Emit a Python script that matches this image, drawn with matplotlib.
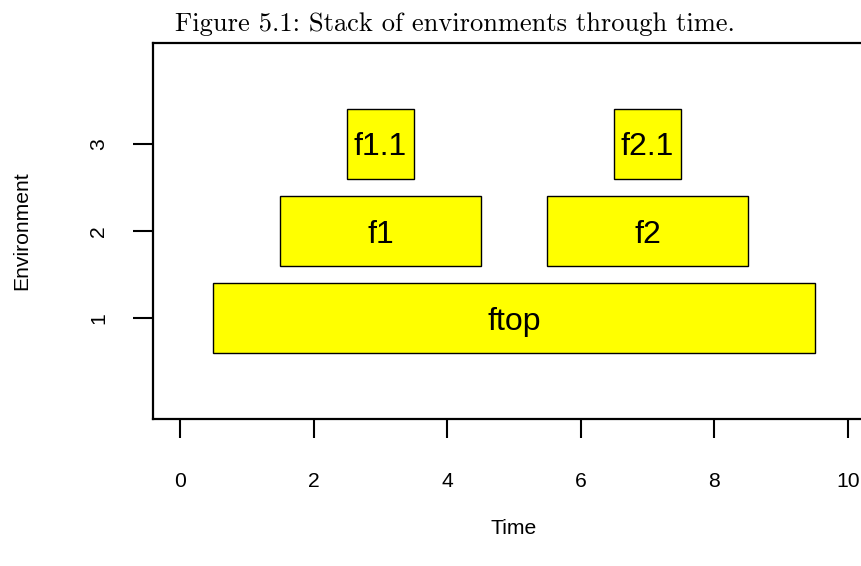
import matplotlib
matplotlib.use("Agg")
import matplotlib.pyplot as plt
from matplotlib.patches import Rectangle

# Data
names = ["ftop", "f1", "f2", "f1.1", "f2.1"]
starts = [0.5, 1.5, 5.5, 2.5, 6.5]
ends = [9.5, 4.5, 8.5, 3.5, 7.5]
levels = [1, 2, 2, 3, 3]
xticks = [0, 2, 4, 6, 8, 10]
yticks = [1, 2, 3]
title = "Figure 5.1: Stack of environments through time."

W, H = 862, 566
fig = plt.figure(figsize=(W / 100, H / 100), dpi=100)

# axes in pixel coordinates
left_px, right_px = 153.3, 874.7
top_px, bottom_px = 43, 419
ax = fig.add_axes([left_px / W, 1 - bottom_px / H, (right_px - left_px) / W, (bottom_px - top_px) / H])
ax.set_xlim(-0.4, 10.4)
ax.set_ylim(-0.16, 4.16)

half = 0.4
for n, s, e, lv in zip(names, starts, ends, levels):
    ax.add_patch(Rectangle((s, lv - half), e - s, 2 * half, facecolor="#FFFF00",
                           edgecolor="black", linewidth=1.0, zorder=2))
    ax.text((s + e) / 2, lv, n, ha="center", va="center_baseline", fontsize=23,
            family="Liberation Sans", zorder=3)

for sp in ax.spines.values():
    sp.set_linewidth(1.6)
    sp.set_clip_on(False)

ax.set_xticks(xticks)
ax.set_xticklabels([str(v) for v in xticks])
ax.set_yticks(yticks)
ax.set_yticklabels([str(v) for v in yticks], rotation=90, va="center")
ax.tick_params(axis="x", length=13.7, width=1.5, pad=24.5, labelsize=15.2)
ax.tick_params(axis="y", length=14.4, width=1.5, pad=18, labelsize=15.2)
for lab in ax.get_xticklabels() + ax.get_yticklabels():
    lab.set_family("Liberation Sans")

fig.text(514 / W, 1 - 529 / H, "Time", ha="center", va="center", fontsize=15.2,
         family="Liberation Sans")
fig.text(22 / W, 1 - 231 / H, "Environment", ha="center", va="center", rotation=90,
         fontsize=15.2, family="Liberation Sans")
fig.text(455 / W, 1 - 31 / H, title, ha="center", va="baseline", fontsize=19.1,
         family="cmr10")

fig.savefig("out.png", dpi=100)
